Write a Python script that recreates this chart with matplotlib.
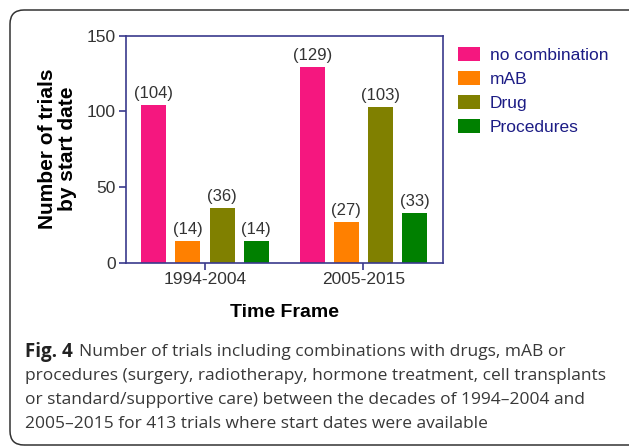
import numpy as np
import matplotlib
matplotlib.use("Agg")
import matplotlib.pyplot as plt
from matplotlib.patches import FancyBboxPatch, Patch

# data
periods = ["1994-2004", "2005-2015"]
categories = ["no combination", "mAB", "Drug", "Procedures"]
no_combination = [104, 129]
mab = [14, 27]
drug = [36, 103]
procedures = [14, 33]
colors = ["#f5177f", "#ff8000", "#808000", "#008000"]

caption_bold = "Fig. 4"
caption_lines = [
    "Number of trials including combinations with drugs, mAB or",
    "procedures (surgery, radiotherapy, hormone treatment, cell transplants",
    "or standard/supportive care) between the decades of 1994\u20132004 and",
    "2005\u20132015 for 413 trials where start dates were available",
]

plt.rcParams["font.family"] = ["Liberation Sans", "DejaVu Sans"]

W, H = 629, 447
fig = plt.figure(figsize=(W / 100, H / 100), dpi=100)

# outer rounded frame (pixel coords)
frame = FancyBboxPatch((10, 2), 660, 435, boxstyle="round,pad=0,rounding_size=14",
                       transform=None, fill=False, edgecolor="#333333", linewidth=1.1)
fig.add_artist(frame)

ax = fig.add_axes([125.7 / W, (H - 262.7) / H, 317 / W, 227.2 / H])

navy = "#3a3a8c"
text_gray = "#333333"
series = [no_combination, mab, drug, procedures]
x = np.arange(len(periods))
step = 0.2155
width = 0.158
for i, (vals, col) in enumerate(zip(series, colors)):
    pos = x + (i - 1.5) * step
    bars = ax.bar(pos, vals, width, color=col, edgecolor="none")
    for b, v in zip(bars, vals):
        ax.annotate(f"({v})", (b.get_x() + b.get_width() / 2, v),
                    xytext=(0, 3), textcoords="offset points",
                    ha="center", va="bottom", fontsize=12, color=text_gray)

ax.set_xlim(-0.5, 1.5)
ax.set_ylim(0, 150)
ax.set_yticks([0, 50, 100, 150])
ax.set_xticks(x)
ax.set_xticklabels(periods)
for s in ax.spines.values():
    s.set_color(navy)
    s.set_linewidth(1.2)
ax.tick_params(axis="both", colors=navy, labelcolor=text_gray, labelsize=12.5,
               length=5, width=1.2, direction="out", pad=2)

ax.set_xlabel("Time Frame", fontsize=14, fontweight="bold", color="black", labelpad=12)
ax.set_ylabel("Number of trials\nby start date", fontsize=15, fontweight="bold",
              color="black", labelpad=7, linespacing=1.1)

handles = [Patch(facecolor=c, edgecolor="none") for c in colors]
leg = ax.legend(handles, categories, loc="upper left", bbox_to_anchor=(458 / W, 1 - 47 / H),
                bbox_transform=fig.transFigure, frameon=False, fontsize=12.5,
                handlelength=1.26, handleheight=0.86, labelspacing=0.46,
                handletextpad=0.57, borderpad=0, borderaxespad=0)
for t in leg.get_texts():
    t.set_color("#1c1c85")

# caption
cap_font = ["Open Sans", "DejaVu Sans"]
cap_size = 12.5
cap_x = 25 / W
y0 = 1 - 352 / H
line_h = 24 / H
t1 = fig.text(cap_x, y0, caption_bold, fontsize=13.5, fontweight="bold",
              family=cap_font, color="#222222", va="center")
ax.annotate(caption_lines[0], xy=(1, 0.5), xycoords=t1, xytext=(6, 0),
            textcoords="offset pixels", va="center", ha="left",
            fontsize=cap_size, family=cap_font, color="#383838",
            annotation_clip=False)
for k, line in enumerate(caption_lines[1:], start=1):
    fig.text(cap_x, y0 - k * line_h, line, fontsize=cap_size, va="center",
             family=cap_font, color="#383838")

fig.savefig("out.png", dpi=100)
